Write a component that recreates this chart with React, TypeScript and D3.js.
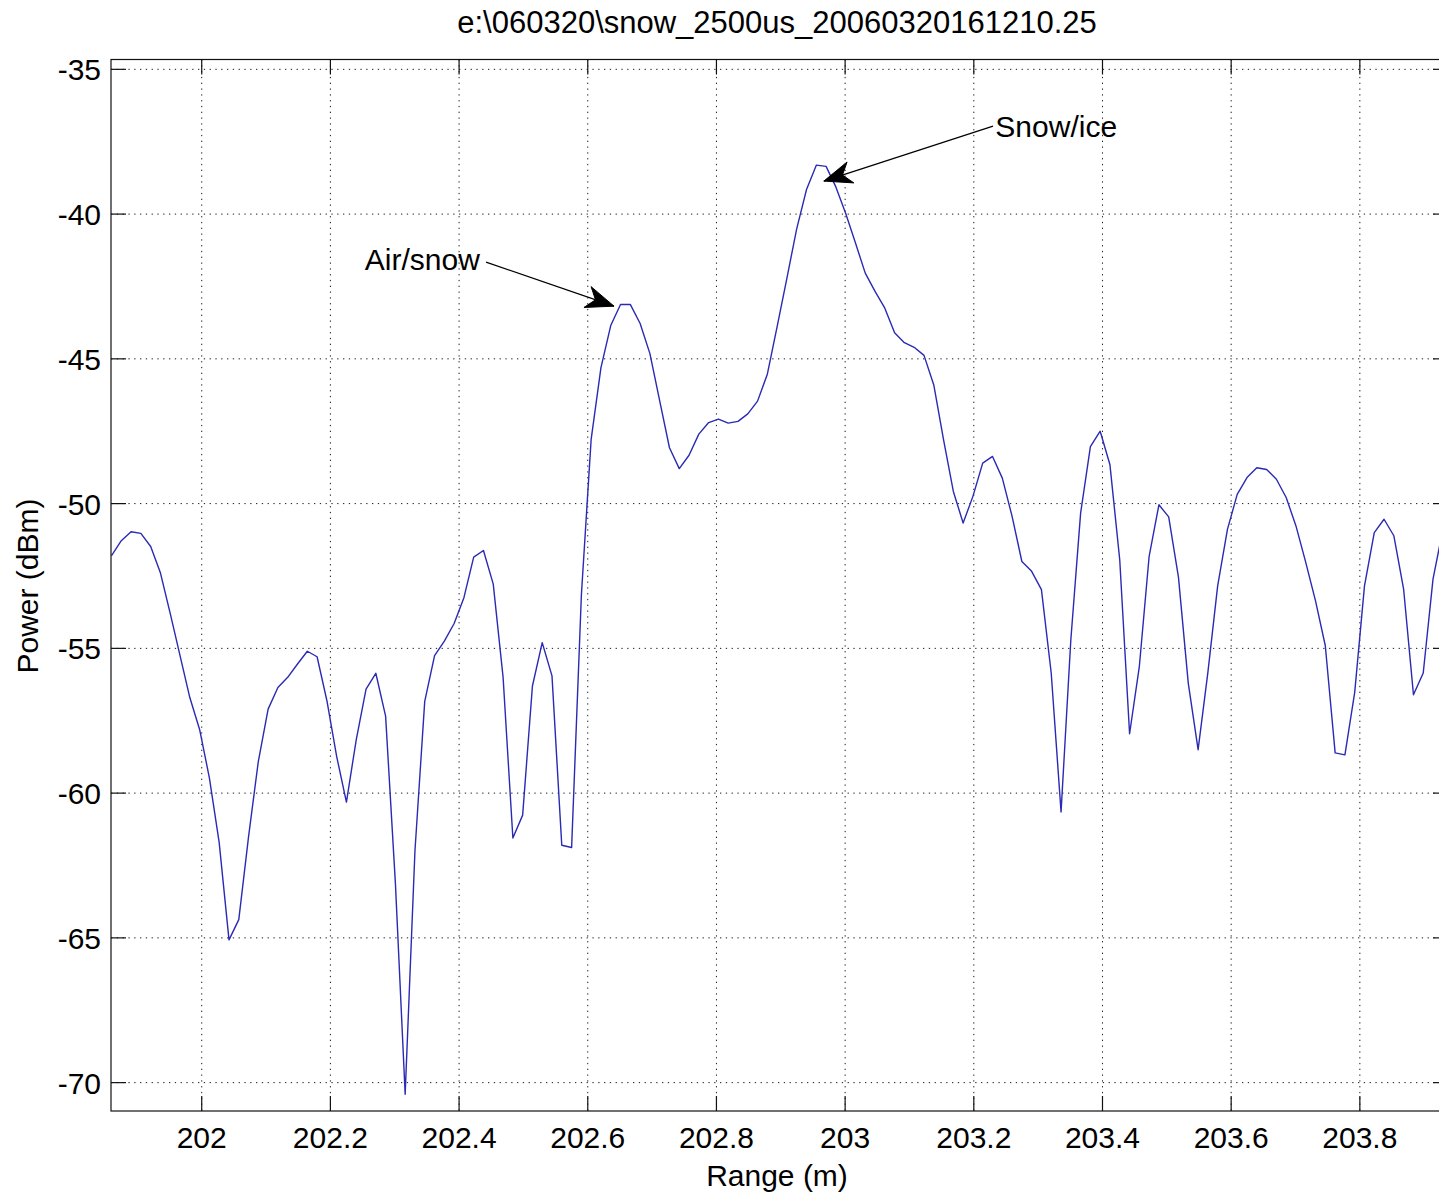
import React from "react";
import * as d3 from "d3";

const titleText = "e:\\060320\\snow_2500us_20060320161210.25";
const xLabel = "Range (m)";
const yLabel = "Power (dBm)";

const xTicks = [202, 202.2, 202.4, 202.6, 202.8, 203, 203.2, 203.4, 203.6, 203.8];
const xTickLabels = ["202", "202.2", "202.4", "202.6", "202.8", "203", "203.2", "203.4", "203.6", "203.8"];
const yTicks = [-35, -40, -45, -50, -55, -60, -65, -70];
const yTickLabels = ["-35", "-40", "-45", "-50", "-55", "-60", "-65", "-70"];

const xDomain = [201.859, 203.937];
const yDomain = [-70.98, -34.66];

const rangeM = [
  201.8598, 201.875, 201.8902, 201.9054, 201.9207, 201.9359, 201.9511, 201.9663, 201.9815, 201.9967,
  202.0119, 202.0271, 202.0424, 202.0576, 202.0728, 202.088, 202.1032, 202.1184, 202.1336, 202.1489,
  202.1641, 202.1793, 202.1945, 202.2097, 202.2249, 202.2402, 202.2554, 202.2706, 202.2858, 202.301,
  202.3162, 202.3314, 202.3466, 202.3619, 202.3771, 202.3923, 202.4075, 202.4227, 202.4379, 202.4531,
  202.4684, 202.4836, 202.4988, 202.514, 202.5292, 202.5444, 202.5596, 202.5749, 202.5901, 202.6053,
  202.6205, 202.6357, 202.6509, 202.6661, 202.6814, 202.6966, 202.7118, 202.727, 202.7422, 202.7574,
  202.7726, 202.7879, 202.8031, 202.8183, 202.8335, 202.8487, 202.8639, 202.8791, 202.8944, 202.9096,
  202.9248, 202.94, 202.9552, 202.9704, 202.9856, 203.0009, 203.0161, 203.0313, 203.0465, 203.0617,
  203.0769, 203.0921, 203.1073, 203.1226, 203.1378, 203.153, 203.1682, 203.1834, 203.1986, 203.2138,
  203.2291, 203.2443, 203.2595, 203.2747, 203.2899, 203.3051, 203.3203, 203.3356, 203.3508, 203.366,
  203.3812, 203.3964, 203.4116, 203.4268, 203.4421, 203.4573, 203.4725, 203.4877, 203.5029, 203.5181,
  203.5333, 203.5486, 203.5638, 203.579, 203.5942, 203.6094, 203.6246, 203.6398, 203.6551, 203.6703,
  203.6855, 203.7007, 203.7159, 203.7311, 203.7463, 203.7616, 203.7768, 203.792, 203.8072, 203.8224,
  203.8376, 203.8528, 203.868, 203.8833, 203.8985, 203.9137, 203.9289,
];

const powerDbm = [
  -51.8, -51.28, -50.97, -51.03, -51.48, -52.4, -53.8, -55.25, -56.7, -57.8,
  -59.47, -61.7, -65.07, -64.37, -61.5, -58.9, -57.1, -56.35, -56.0, -55.54,
  -55.1, -55.29, -56.8, -58.73, -60.31, -58.15, -56.41, -55.86, -57.34, -63.1,
  -70.4, -62.0, -56.83, -55.25, -54.75, -54.14, -53.25, -51.85, -51.62, -52.78,
  -56.0, -61.55, -60.76, -56.3, -54.8, -55.95, -61.8, -61.88, -53.15, -47.77,
  -45.3, -43.85, -43.12, -43.12, -43.78, -44.82, -46.45, -48.07, -48.79, -48.33,
  -47.6, -47.2, -47.08, -47.22, -47.16, -46.9, -46.46, -45.53, -43.88, -42.2,
  -40.5, -39.15, -38.31, -38.35, -39.06, -39.98, -41.0, -42.04, -42.67, -43.25,
  -44.1, -44.44, -44.6, -44.88, -45.9, -47.8, -49.58, -50.67, -49.75, -48.6,
  -48.37, -49.12, -50.44, -52.0, -52.34, -52.97, -55.85, -60.65, -54.7, -50.33,
  -48.03, -47.5, -48.66, -51.94, -57.95, -55.62, -51.82, -50.04, -50.46, -52.55,
  -56.2, -58.5, -55.83, -52.84, -50.89, -49.68, -49.1, -48.76, -48.82, -49.16,
  -49.79, -50.77, -52.03, -53.36, -54.91, -58.61, -58.68, -56.52, -52.84, -51.0,
  -50.54, -51.11, -52.95, -56.6, -55.85, -52.61, -50.9,
];

// annotations: label, label position (data), arrow tail (data), arrow tip (data)
const annotationLabels = ["Air/snow", "Snow/ice"];
const annotationTextPos = [[202.2535, -41.55], [203.2335, -36.96]];
const annotationTextAnchor = ["start", "start"];
const annotationTailPos = [[202.4419, -41.66], [203.2299, -36.96]];
const annotationTipPos = [[202.6408, -43.18], [202.9669, -38.86]];

const W = 1439;
const H = 1195;
const M = { left: 111, right: 1448, top: 59.5, bottom: 1111 };
const FONT = "'Liberation Sans', Arial, Helvetica, sans-serif";
const TICK = 15;

export default function App() {
  const x = d3.scaleLinear().domain(xDomain).range([M.left, M.right]);
  const y = d3.scaleLinear().domain(yDomain).range([M.bottom, M.top]);
  const pts: [number, number][] = rangeM.map((r, i) => [r, powerDbm[i]]);
  const line = d3
    .line<[number, number]>()
    .x((d) => x(d[0]))
    .y((d) => y(d[1]));

  const arrowHead = (tx: number, ty: number, sx: number, sy: number) => {
    const dx = tx - sx;
    const dy = ty - sy;
    const len = Math.hypot(dx, dy);
    const ux = dx / len;
    const uy = dy / len;
    const nx = -uy;
    const ny = ux;
    const L = 28;
    const Wd = 11;
    const bx = tx - L * ux;
    const by = ty - L * uy;
    const p1 = [bx + Wd * nx, by + Wd * ny];
    const p2 = [tx - 0.7 * L * ux, ty - 0.7 * L * uy];
    const p3 = [bx - Wd * nx, by - Wd * ny];
    return `M${tx},${ty}L${p1[0]},${p1[1]}L${p2[0]},${p2[1]}L${p3[0]},${p3[1]}Z`;
  };

  return (
    <svg
      width={W}
      height={H}
      style={{ position: "absolute", left: 0, top: 0, background: "#fff" }}
      fontFamily={FONT}
    >
      <rect x={0} y={0} width={W} height={H} fill="#fff" />
      <defs>
        <clipPath id="plotclip">
          <rect x={M.left} y={M.top} width={M.right - M.left} height={M.bottom - M.top} />
        </clipPath>
      </defs>
      {/* grid */}
      <g stroke="#1a1a1a" strokeWidth={1} strokeDasharray="1.3,4.5">
        {xTicks.map((t) => (
          <line key={"gx" + t} x1={x(t)} x2={x(t)} y1={M.top} y2={M.bottom} />
        ))}
        {yTicks.map((t) => (
          <line key={"gy" + t} x1={M.left} x2={M.right} y1={y(t)} y2={y(t)} />
        ))}
      </g>
      {/* data */}
      <path
        d={line(pts) || ""}
        fill="none"
        stroke="#2a2ab4"
        strokeWidth={1.4}
        strokeLinejoin="round"
        clipPath="url(#plotclip)"
      />
      {/* box & ticks */}
      <rect
        x={M.left}
        y={M.top}
        width={M.right - M.left}
        height={M.bottom - M.top}
        fill="none"
        stroke="#111"
        strokeWidth={1.2}
      />
      <g stroke="#111" strokeWidth={1.2}>
        {xTicks.map((t) => (
          <g key={"tx" + t}>
            <line x1={x(t)} x2={x(t)} y1={M.bottom} y2={M.bottom - TICK} />
            <line x1={x(t)} x2={x(t)} y1={M.top} y2={M.top + TICK} />
          </g>
        ))}
        {yTicks.map((t) => (
          <g key={"ty" + t}>
            <line x1={M.left} x2={M.left + TICK} y1={y(t)} y2={y(t)} />
            <line x1={M.right} x2={M.right - TICK} y1={y(t)} y2={y(t)} />
          </g>
        ))}
      </g>
      {/* tick labels */}
      <g fontSize={30} fill="#000">
        {xTicks.map((t, i) => (
          <text key={"lx" + t} x={x(t)} y={1148} textAnchor="middle">
            {xTickLabels[i]}
          </text>
        ))}
        {yTicks.map((t, i) => (
          <text key={"ly" + t} x={101} y={y(t) + 11} textAnchor="end">
            {yTickLabels[i]}
          </text>
        ))}
      </g>
      {/* title & axis labels */}
      <text x={777} y={33} fontSize={31} textAnchor="middle" fill="#000">
        {titleText}
      </text>
      <text x={777} y={1186} fontSize={30} textAnchor="middle" fill="#000">
        {xLabel}
      </text>
      <text
        transform={`translate(38,586) rotate(-90)`}
        fontSize={30}
        textAnchor="middle"
        fill="#000"
      >
        {yLabel}
      </text>
      {/* annotations */}
      {annotationLabels.map((lab, i) => {
        const tx = x(annotationTipPos[i][0]);
        const ty = y(annotationTipPos[i][1]);
        const sx = x(annotationTailPos[i][0]);
        const sy = y(annotationTailPos[i][1]);
        return (
          <g key={"ann" + i}>
            <line x1={sx} y1={sy} x2={tx} y2={ty} stroke="#000" strokeWidth={1.2} />
            <path d={arrowHead(tx, ty, sx, sy)} fill="#000" stroke="#000" strokeWidth={1} />
            <text
              x={x(annotationTextPos[i][0])}
              y={y(annotationTextPos[i][1]) + 11}
              fontSize={30}
              textAnchor={annotationTextAnchor[i]}
              fill="#000"
            >
              {lab}
            </text>
          </g>
        );
      })}
    </svg>
  );
}
